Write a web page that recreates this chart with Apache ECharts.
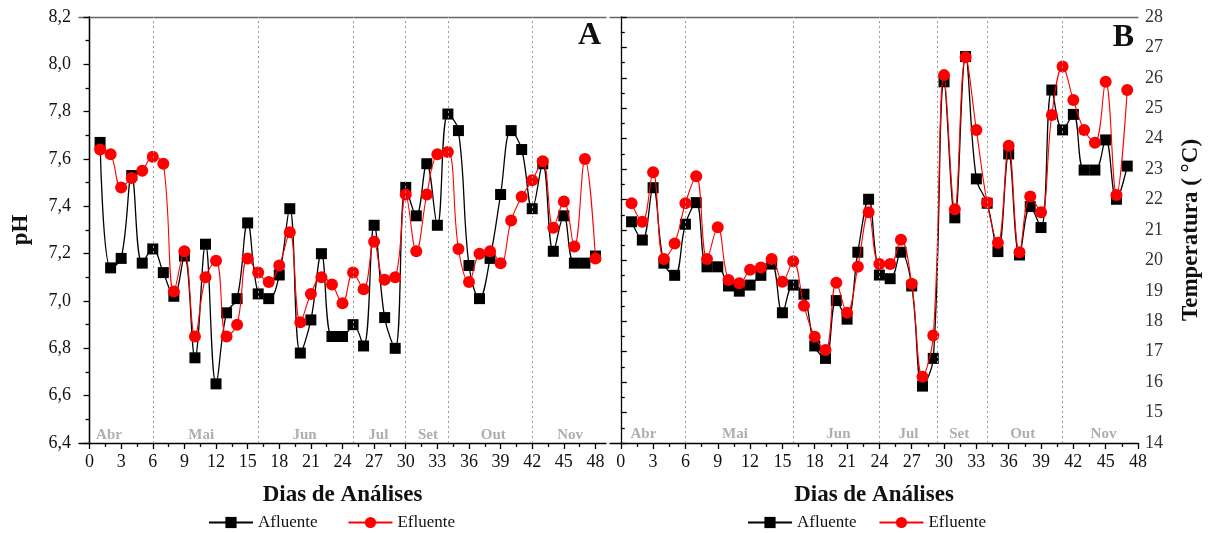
<!DOCTYPE html>
<html>
<head>
<meta charset="utf-8">
<script src="https://cdn.jsdelivr.net/npm/echarts@6/dist/echarts.min.js"></script>
<style>
html,body{margin:0;padding:0;background:#fff;}
#chart{width:1212px;height:533px;}
</style>
</head>
<body>
<div id="chart"></div>
<script>
// ---- data ----
const daysA = [1,2,3,4,5,6,7,8,9,10,11,12,13,14,15,16,17,18,19,20,21,22,23,24,25,26,27,28,29,30,31,32,33,34,35,36,37,38,39,40,41,42,43,44,45,46,47,48];
const phAfluente = [7.67,7.14,7.18,7.53,7.16,7.22,7.12,7.02,7.19,6.76,7.24,6.65,6.95,7.01,7.33,7.03,7.01,7.11,7.39,6.78,6.92,7.20,6.85,6.85,6.90,6.81,7.32,6.93,6.80,7.48,7.36,7.58,7.32,7.79,7.72,7.15,7.01,7.18,7.45,7.72,7.64,7.39,7.58,7.21,7.36,7.16,7.16,7.19];
const phEfluente = [7.64,7.62,7.48,7.52,7.55,7.61,7.58,7.04,7.21,6.85,7.10,7.17,6.85,6.90,7.18,7.12,7.08,7.15,7.29,6.91,7.03,7.10,7.07,6.99,7.12,7.05,7.25,7.09,7.10,7.45,7.21,7.45,7.62,7.63,7.22,7.08,7.20,7.21,7.16,7.34,7.44,7.51,7.59,7.31,7.42,7.23,7.60,7.18];

const daysB = [1,2,3,4,5,6,7,8,9,10,11,12,13,14,15,16,17,18,19,20,21,22,23,24,25,26,27,28,29,30,31,32,33,34,35,36,37,38,39,40,41,42,43,44,45,46,47];
const tempAfluente = [21.27,20.67,22.39,19.91,19.51,21.19,21.90,19.79,19.79,19.16,18.99,19.19,19.51,19.88,18.28,19.19,18.89,17.19,16.78,18.68,18.07,20.27,22.01,19.52,19.40,20.27,19.16,15.87,16.78,25.87,21.40,26.70,22.68,21.88,20.29,23.50,20.18,21.77,21.08,25.60,24.29,24.80,22.97,22.97,23.96,22.01,23.10];
const tempEfluente = [21.88,21.27,22.90,20.05,20.56,21.88,22.77,20.05,21.09,19.36,19.25,19.69,19.77,20.05,19.30,19.97,18.51,17.49,17.06,19.27,18.28,19.79,21.58,19.88,19.88,20.68,19.23,16.18,17.53,26.09,21.68,26.68,24.29,21.90,20.58,23.77,20.27,22.10,21.58,24.78,26.37,25.27,24.29,23.87,25.87,22.15,25.60];

const xTickLabels = [0,3,6,9,12,15,18,21,24,27,30,33,36,39,42,45,48];
const xMinorTicks = [1.5,4.5,7.5,10.5,13.5,16.5,19.5,22.5,25.5,28.5,31.5,34.5,37.5,40.5,43.5,46.5];

const months = ['Abr','Mai','Jun','Jul','Set','Out','Nov'];
const monthCentersA = [1.85,10.6,20.4,27.4,32.1,38.3,45.6];
const monthCentersB = [2.1,10.6,20.2,26.7,31.4,37.3,44.8];
const monthBoundsA = [6,16,25,30,34,42];
const monthBoundsB = [6,16,24,29.4,34,41];

// ---- chart ----
const serif = 'Liberation Serif';
const chart = echarts.init(document.getElementById('chart'));
const pairs = (xs, ys) => ys.map((v, i) => [xs[i], v]);

function bottomAxis(grid, min, max) {
  return {
    type: 'value', gridIndex: grid, min: min, max: max, position: 'bottom',
    axisLine: {show: true, onZero: false, lineStyle: {color: '#000', width: 1.3}},
    axisTick: {show: true, inside: false, length: 6, customValues: xTickLabels, lineStyle: {color: '#000', width: 1.3}},
    axisLabel: {show: true, customValues: xTickLabels, fontFamily: serif, fontSize: 18, color: '#111', margin: 10},
    splitLine: {show: false},
    name: 'Dias de Análises', nameLocation: 'middle', nameGap: 41,
    nameTextStyle: {fontFamily: serif, fontWeight: 'bold', fontSize: 23, color: '#111'}
  };
}
function minorAxis(grid, min, max) {
  return {
    type: 'value', gridIndex: grid, min: min, max: max, position: 'bottom',
    axisLine: {show: false, onZero: false},
    axisTick: {show: true, length: 4, customValues: xMinorTicks, lineStyle: {color: '#000', width: 1.3}},
    axisLabel: {show: false}, splitLine: {show: false}
  };
}
function topAxis(grid, min, max) {
  return {
    type: 'value', gridIndex: grid, min: min, max: max, position: 'top',
    axisLine: {show: true, onZero: false, lineStyle: {color: '#666', width: 1.3}},
    axisTick: {show: false}, axisLabel: {show: false}, splitLine: {show: false}
  };
}

function monthSeries(xi, yi, centers, bounds, yPos) {
  return {
    type: 'scatter', xAxisIndex: xi, yAxisIndex: yi, silent: true,
    symbol: 'rect', symbolSize: 1, itemStyle: {color: 'rgba(0,0,0,0)'},
    data: centers.map((c, i) => [c, yPos, months[i]]),
    label: {show: true, position: 'inside', formatter: p => p.data[2],
      fontFamily: serif, fontWeight: 'bold', fontSize: 15, color: '#9a9a9a'},
    markLine: {silent: true, symbol: ['none', 'none'], label: {show: false},
      lineStyle: {color: '#9a9a9a', type: [2, 3], width: 1},
      data: bounds.map(b => ({xAxis: b}))},
    z: 1
  };
}

const option = {
  animation: false,
  backgroundColor: '#fff',
  grid: [
    {left: 79, top: 17, width: 527, height: 426},
    {left: 610, top: 17, width: 528, height: 426}
  ],
  xAxis: [
    bottomAxis(0, -1, 49), minorAxis(0, -1, 49), topAxis(0, -1, 49),
    bottomAxis(1, -1, 48), minorAxis(1, -1, 48), topAxis(1, -1, 48)
  ],
  yAxis: [
    {type: 'value', gridIndex: 0, min: 6.4, max: 8.2, interval: 0.2, position: 'left',
      axisLine: {show: true, lineStyle: {color: '#000', width: 1.3}},
      axisTick: {show: true, length: 6, lineStyle: {color: '#000', width: 1.3}},
      minorTick: {show: true, splitNumber: 2, length: 4, lineStyle: {color: '#000', width: 1.3}},
      axisLabel: {fontFamily: serif, fontSize: 18, color: '#111', margin: 8,
        formatter: v => v.toFixed(1).replace('.', ',')},
      splitLine: {show: false},
      name: 'pH', nameLocation: 'middle', nameGap: 46, nameRotate: 90,
      nameTextStyle: {fontFamily: serif, fontWeight: 'bold', fontSize: 23, color: '#111'}},
    {type: 'value', gridIndex: 0, min: 6.4, max: 8.2, position: 'right',
      axisLine: {show: true, lineStyle: {color: '#000', width: 1.3}},
      axisTick: {show: false}, axisLabel: {show: false}, splitLine: {show: false}},
    {type: 'value', gridIndex: 1, min: 14, max: 28, interval: 1, position: 'right',
      axisLine: {show: true, lineStyle: {color: '#000', width: 1.3}},
      axisTick: {show: true, length: 6, lineStyle: {color: '#000', width: 1.3}},
      minorTick: {show: true, splitNumber: 2, length: 4, lineStyle: {color: '#000', width: 1.3}},
      axisLabel: {fontFamily: serif, fontSize: 18, color: '#333', margin: 7},
      splitLine: {show: false},
      name: 'Temperatura ( °C)', nameLocation: 'middle', nameGap: 42, nameRotate: 90,
      nameTextStyle: {fontFamily: serif, fontWeight: 'bold', fontSize: 23, color: '#111'}}
  ],
  legend: [
    {left: 203, top: 509, itemWidth: 44, itemHeight: 14, itemGap: 30,
      data: ['Afluente', 'Efluente'],
      textStyle: {fontFamily: serif, fontSize: 17, color: '#111'}},
    {left: 742, top: 509, itemWidth: 44, itemHeight: 14, itemGap: 22,
      data: ['Afluente', 'Efluente'],
      textStyle: {fontFamily: serif, fontSize: 17, color: '#111'}}
  ],
  graphic: [
    {type: 'text', right: 1212 - 601, top: 20, style: {text: 'A', fontFamily: serif, fontWeight: 'bold', fontSize: 32, fill: '#111'}},
    {type: 'text', right: 1212 - 1134, top: 22, style: {text: 'B', fontFamily: serif, fontWeight: 'bold', fontSize: 32, fill: '#111'}}
  ],
  series: [
    monthSeries(0, 0, monthCentersA, monthBoundsA, 6.435),
    monthSeries(3, 2, monthCentersB, monthBoundsB, 14.29),
    {name: 'Afluente', type: 'line', xAxisIndex: 0, yAxisIndex: 0, smooth: 0.4,
      data: pairs(daysA, phAfluente), symbol: 'rect', symbolSize: 11,
      lineStyle: {color: '#000', width: 1.3}, itemStyle: {color: '#000'}, z: 3},
    {name: 'Efluente', type: 'line', xAxisIndex: 0, yAxisIndex: 0, smooth: 0.4,
      data: pairs(daysA, phEfluente), symbol: 'circle', symbolSize: 12,
      lineStyle: {color: '#ff0000', width: 1.1}, itemStyle: {color: '#ff0000'}, z: 4},
    {name: 'Afluente', type: 'line', xAxisIndex: 3, yAxisIndex: 2, smooth: 0.4,
      data: pairs(daysB, tempAfluente), symbol: 'rect', symbolSize: 11,
      lineStyle: {color: '#000', width: 1.3}, itemStyle: {color: '#000'}, z: 3},
    {name: 'Efluente', type: 'line', xAxisIndex: 3, yAxisIndex: 2, smooth: 0.4,
      data: pairs(daysB, tempEfluente), symbol: 'circle', symbolSize: 12,
      lineStyle: {color: '#ff0000', width: 1.1}, itemStyle: {color: '#ff0000'}, z: 4}
  ]
};
chart.setOption(option);
</script>
</body>
</html>
